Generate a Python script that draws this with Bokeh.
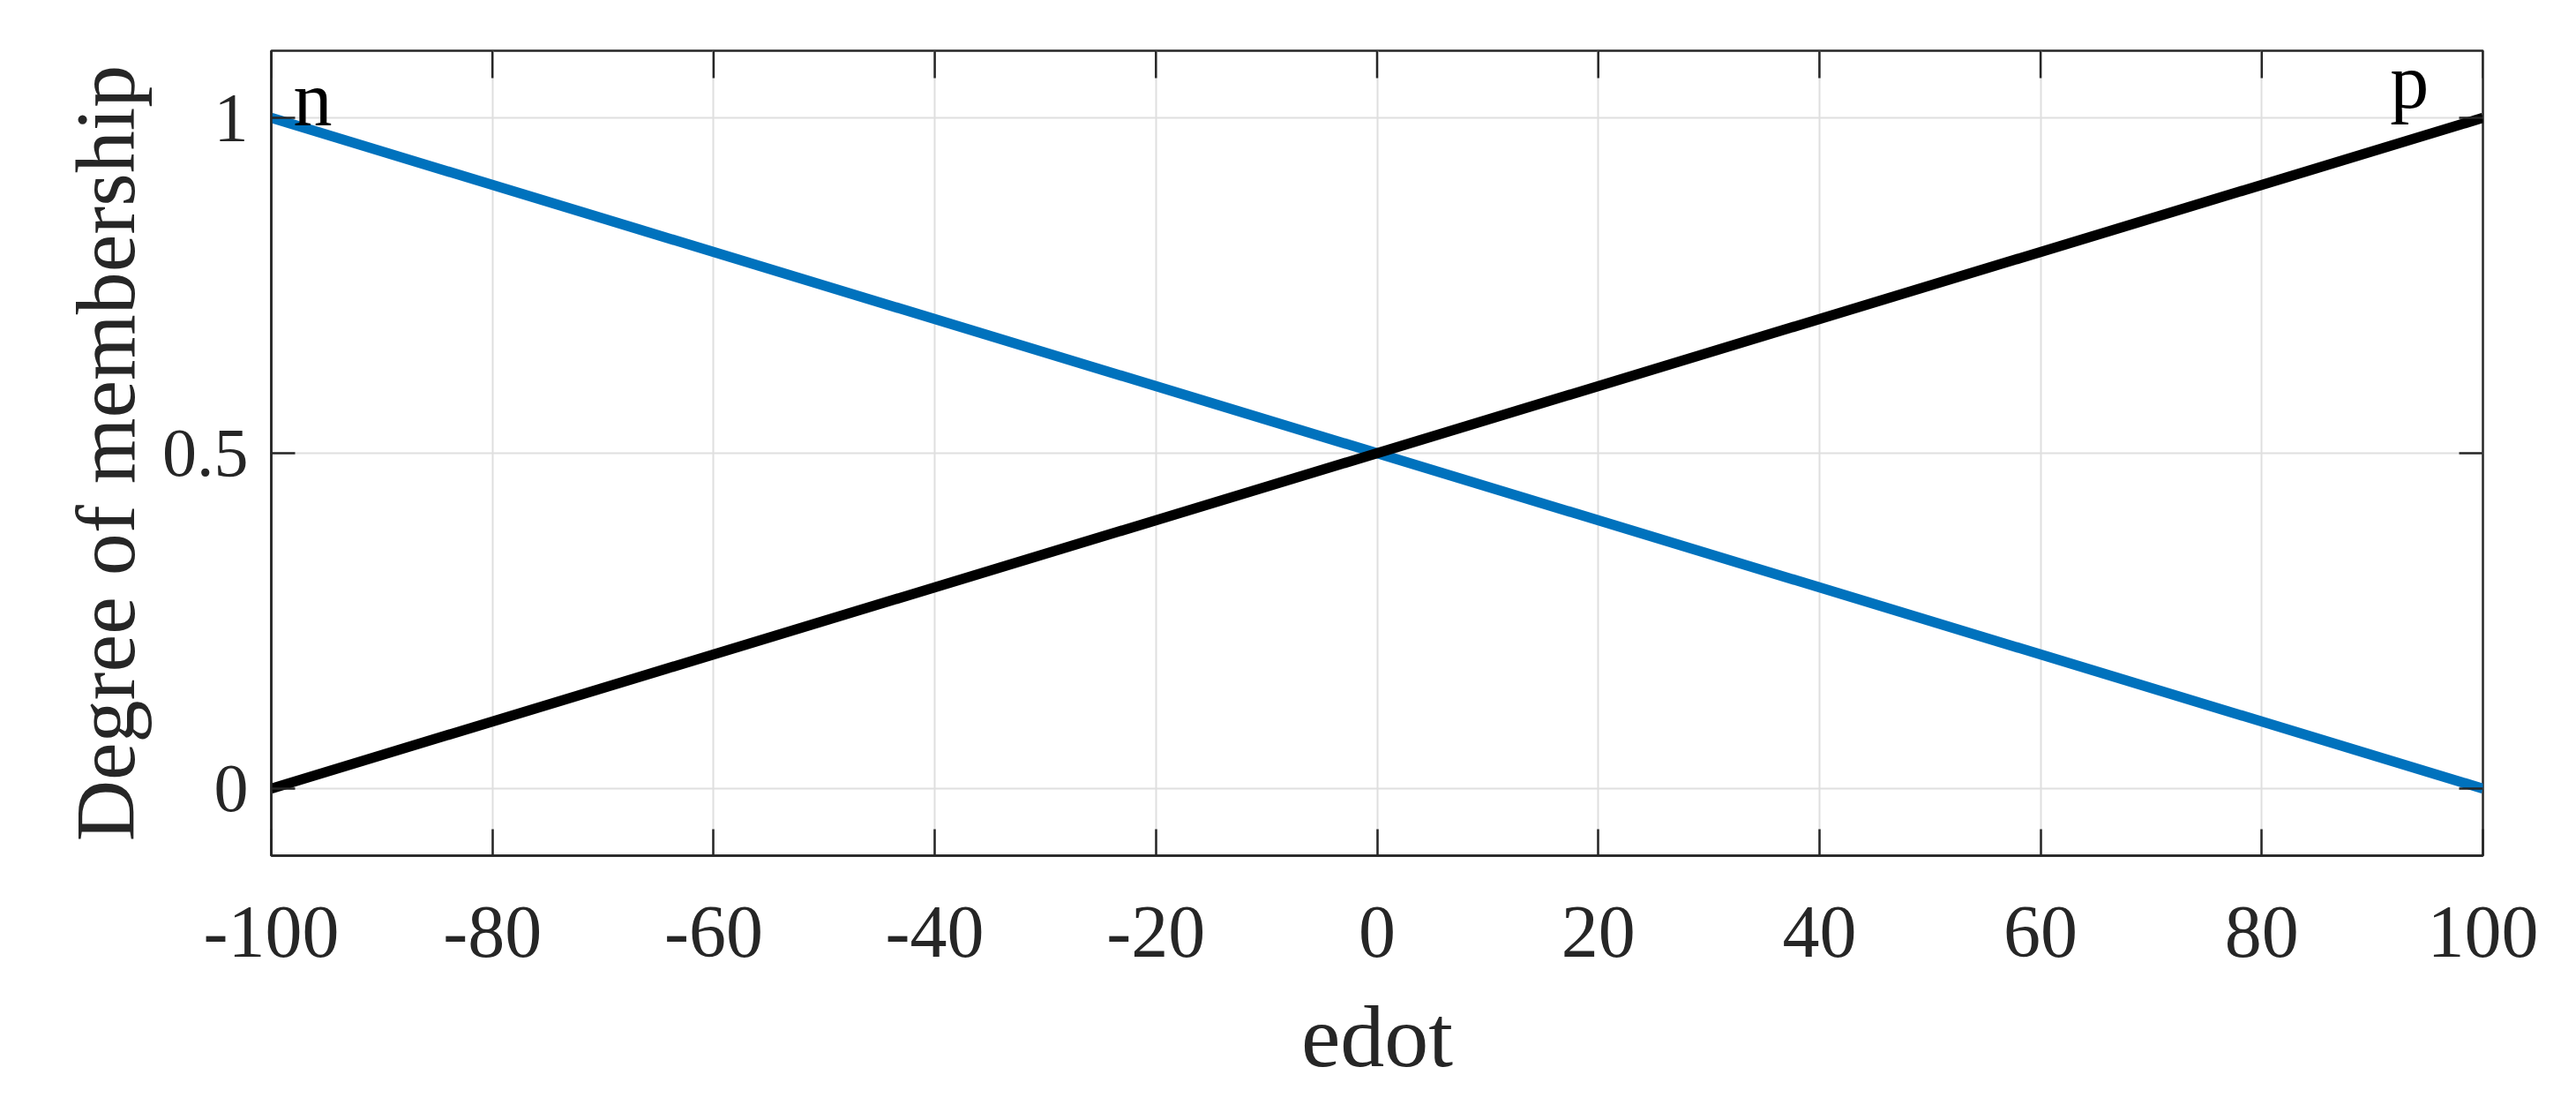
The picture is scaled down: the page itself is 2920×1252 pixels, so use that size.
from bokeh.plotting import figure
from bokeh.models import FixedTicker, Range1d, ColumnDataSource
from bokeh.core.properties import value
from bokeh.embed import file_html
from bokeh.resources import INLINE
import math

# Data
x_vals = [-100, 100]
n_vals = [1.0, 0.0]
p_vals = [0.0, 1.0]
mf_names = ["n", "p"]
mf_label_x = [-98.0, 91.6]
mf_label_y = [1.028, 1.054]
x_ticks = [-100, -80, -60, -40, -20, 0, 20, 40, 60, 80, 100]
x_tick_labels = ["-100", "-80", "-60", "-40", "-20", "0", "20", "40", "60", "80", "100"]
y_ticks = [0, 0.5, 1]
y_tick_labels = ["0", "0.5", "1"]

FONT = "Liberation Serif"
AXC = "#262626"
X0, X1 = -100, 100
Y0, Y1 = -0.1, 1.1

p = figure(width=2904, height=1236, output_backend="svg", toolbar_location=None,
           x_range=Range1d(X0, X1), y_range=Range1d(Y0, Y1),
           min_border_left=307, min_border_right=90, min_border_top=57, min_border_bottom=267)
p.background_fill_color = "white"
p.border_fill_color = "white"
p.outline_line_color = AXC
p.outline_line_width = 2.5

p.xgrid.ticker = FixedTicker(ticks=x_ticks)
p.ygrid.ticker = FixedTicker(ticks=y_ticks)
p.grid.grid_line_color = "#DFDFDF"
p.grid.grid_line_width = 2

p.line(x_vals, n_vals, line_color="#0072BD", line_width=11.5)
p.line(x_vals, p_vals, line_color="#000000", line_width=11.5)

# mirrored inner ticks on top and right (clipped to the frame)
p.scatter(x=x_ticks, y=[Y1] * len(x_ticks), marker="dash", angle=math.pi / 2, size=62,
          line_color=AXC, line_width=2.5)
p.scatter(x=[X1] * len(y_ticks), y=y_ticks, marker="dash", size=54,
          line_color=AXC, line_width=2.5)

src = ColumnDataSource(dict(x=mf_label_x, y=mf_label_y, t=mf_names))
p.text(x="x", y="y", text="t", source=src, text_font=value(FONT), text_font_size="88px",
       text_color="black", text_baseline="alphabetic", text_align="left")

for ax in (p.xaxis[0], p.yaxis[0]):
    ax.axis_line_color = AXC
    ax.axis_line_width = 2.5
    ax.major_tick_line_color = AXC
    ax.major_tick_line_width = 2.5
    ax.major_tick_in = 30
    ax.major_tick_out = 0
    ax.minor_tick_line_color = None
    ax.major_label_text_font = FONT
    ax.major_label_text_font_size = "84px"
    ax.major_label_text_color = AXC
    ax.axis_label_text_font = FONT
    ax.axis_label_text_font_size = "100px"
    ax.axis_label_text_color = AXC
    ax.axis_label_text_font_style = "normal"

p.yaxis[0].major_tick_in = 27
p.yaxis[0].major_label_text_font_size = "78px"
p.yaxis[0].axis_label_text_font_size = "96px"
p.xaxis[0].ticker = FixedTicker(ticks=x_ticks)
p.yaxis[0].ticker = FixedTicker(ticks=y_ticks)
p.xaxis[0].major_label_overrides = {t: s for t, s in zip(x_ticks, x_tick_labels)}
p.yaxis[0].major_label_overrides = {t: s for t, s in zip(y_ticks, y_tick_labels)}
p.xaxis[0].axis_label = "edot"
p.yaxis[0].axis_label = "Degree of membership"
p.xaxis[0].major_label_standoff = 58
p.yaxis[0].major_label_standoff = 26
p.xaxis[0].axis_label_standoff = 32
p.yaxis[0].axis_label_standoff = 8

open("out.html", "w").write(file_html(p, INLINE))
